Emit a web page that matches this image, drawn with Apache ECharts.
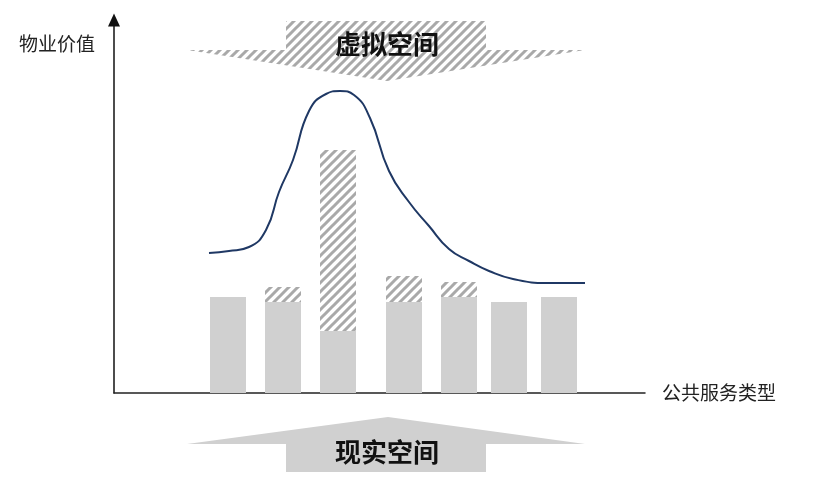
<!DOCTYPE html>
<html>
<head>
<meta charset="utf-8">
<script src="https://cdn.jsdelivr.net/npm/echarts@6/dist/echarts.min.js"></script>
<style>
  html, body { margin: 0; padding: 0; background: #fff; }
  #main { width: 814px; height: 483px; }
</style>
</head>
<body>
<div id="main"></div>
<script>
// 公共服务类型的位置（横轴单位）
const barX = [114, 169, 224, 290, 345, 395, 445];
// 现实空间价值（实心灰柱）
const realValues = [96, 91, 62, 91, 96, 91, 96];
// 虚拟空间增值（斜线部分，叠在实心柱之上）
const virtualValues = [0, 15, 181, 26, 15, 0, 0];
// 物业价值曲线
const curveX = [95, 115, 135, 152, 165, 179, 195, 212, 226, 240, 256, 275, 295, 315, 335, 355, 375, 399, 433, 471];
const curveY = [140, 142, 146, 163, 201, 233, 282, 299, 302, 298, 275, 222, 191, 167, 144, 132, 122, 114, 110, 110];

const FONT = '"Noto Sans CJK SC", "Microsoft YaHei", sans-serif';

// 斜线填充
function makeHatch() {
  const s = 9;
  const c = document.createElement('canvas');
  c.width = s;
  c.height = s;
  const ctx = c.getContext('2d');
  ctx.fillStyle = '#fff';
  ctx.fillRect(0, 0, s, s);
  ctx.strokeStyle = '#a9a9a9';
  ctx.lineWidth = 3;
  ctx.beginPath();
  ctx.moveTo(-2, s + 2); ctx.lineTo(s + 2, -2);
  ctx.moveTo(-2, 2); ctx.lineTo(2, -2);
  ctx.moveTo(s - 2, s + 2); ctx.lineTo(s + 2, s - 2);
  ctx.stroke();
  return { image: c, repeat: 'repeat' };
}
const hatch = makeHatch();

// 柱顶 = 现实 + 虚拟；没有虚拟部分的柱不画斜线
const totalData = barX.map((x, i) =>
  virtualValues[i] > 0 ? [x, realValues[i] + virtualValues[i]] : [x, null]
);

const chart = echarts.init(document.getElementById('main'));

const option = {
  animation: false,
  grid: { left: 114, right: 169, top: 20, bottom: 90 },
  xAxis: {
    type: 'value',
    min: 0,
    max: 531,
    name: '公共服务类型',
    nameLocation: 'end',
    nameGap: 17,
    nameTextStyle: { fontFamily: FONT, fontSize: 19, color: '#222', padding: [0, 0, 8, 0] },
    axisLine: { show: true, lineStyle: { color: '#222', width: 1.5 } },
    axisTick: { show: false },
    axisLabel: { show: false },
    splitLine: { show: false }
  },
  yAxis: {
    type: 'value',
    min: 0,
    max: 373,
    name: '物业价值',
    nameLocation: 'end',
    nameGap: -24,
    nameTextStyle: {
      fontFamily: FONT, fontSize: 19, color: '#222',
      align: 'right', verticalAlign: 'middle', padding: [0, 19, 0, 0]
    },
    axisLine: {
      show: true,
      symbol: ['none', 'triangle'],
      symbolSize: [12, 13],
      lineStyle: { color: '#111', width: 1.5 }
    },
    axisTick: { show: false },
    axisLabel: { show: false },
    splitLine: { show: false }
  },
  series: [
    {
      name: '虚拟空间',
      type: 'bar',
      barWidth: 36,
      barGap: '-100%',
      itemStyle: { color: hatch },
      data: totalData
    },
    {
      name: '现实空间',
      type: 'bar',
      barWidth: 36,
      barGap: '-100%',
      itemStyle: { color: '#d0d0d0' },
      data: barX.map((x, i) => [x, realValues[i]])
    },
    {
      name: '物业价值',
      type: 'line',
      smooth: 0.5,
      showSymbol: false,
      symbol: 'none',
      lineStyle: { color: '#1f3864', width: 2 },
      data: curveX.map((x, i) => [x, curveY[i]])
    }
  ],
  graphic: [
    {
      type: 'polygon',
      shape: { points: [[286, 21], [486, 21], [486, 50], [585, 50], [387, 81], [187, 50], [286, 50]] },
      style: { fill: hatch }
    },
    {
      type: 'text',
      x: 387, y: 44,
      style: {
        text: '虚拟空间', fontFamily: FONT, fontSize: 26, fontWeight: 'bold',
        fill: '#111', align: 'center', verticalAlign: 'middle'
      }
    },
    {
      type: 'polygon',
      shape: { points: [[388, 417], [585, 444], [486, 444], [486, 472], [286, 472], [286, 444], [187, 444]] },
      style: { fill: '#d0d0d0' }
    },
    {
      type: 'text',
      x: 387, y: 452,
      style: {
        text: '现实空间', fontFamily: FONT, fontSize: 26, fontWeight: 'bold',
        fill: '#111', align: 'center', verticalAlign: 'middle'
      }
    }
  ]
};

chart.setOption(option);
</script>
</body>
</html>
